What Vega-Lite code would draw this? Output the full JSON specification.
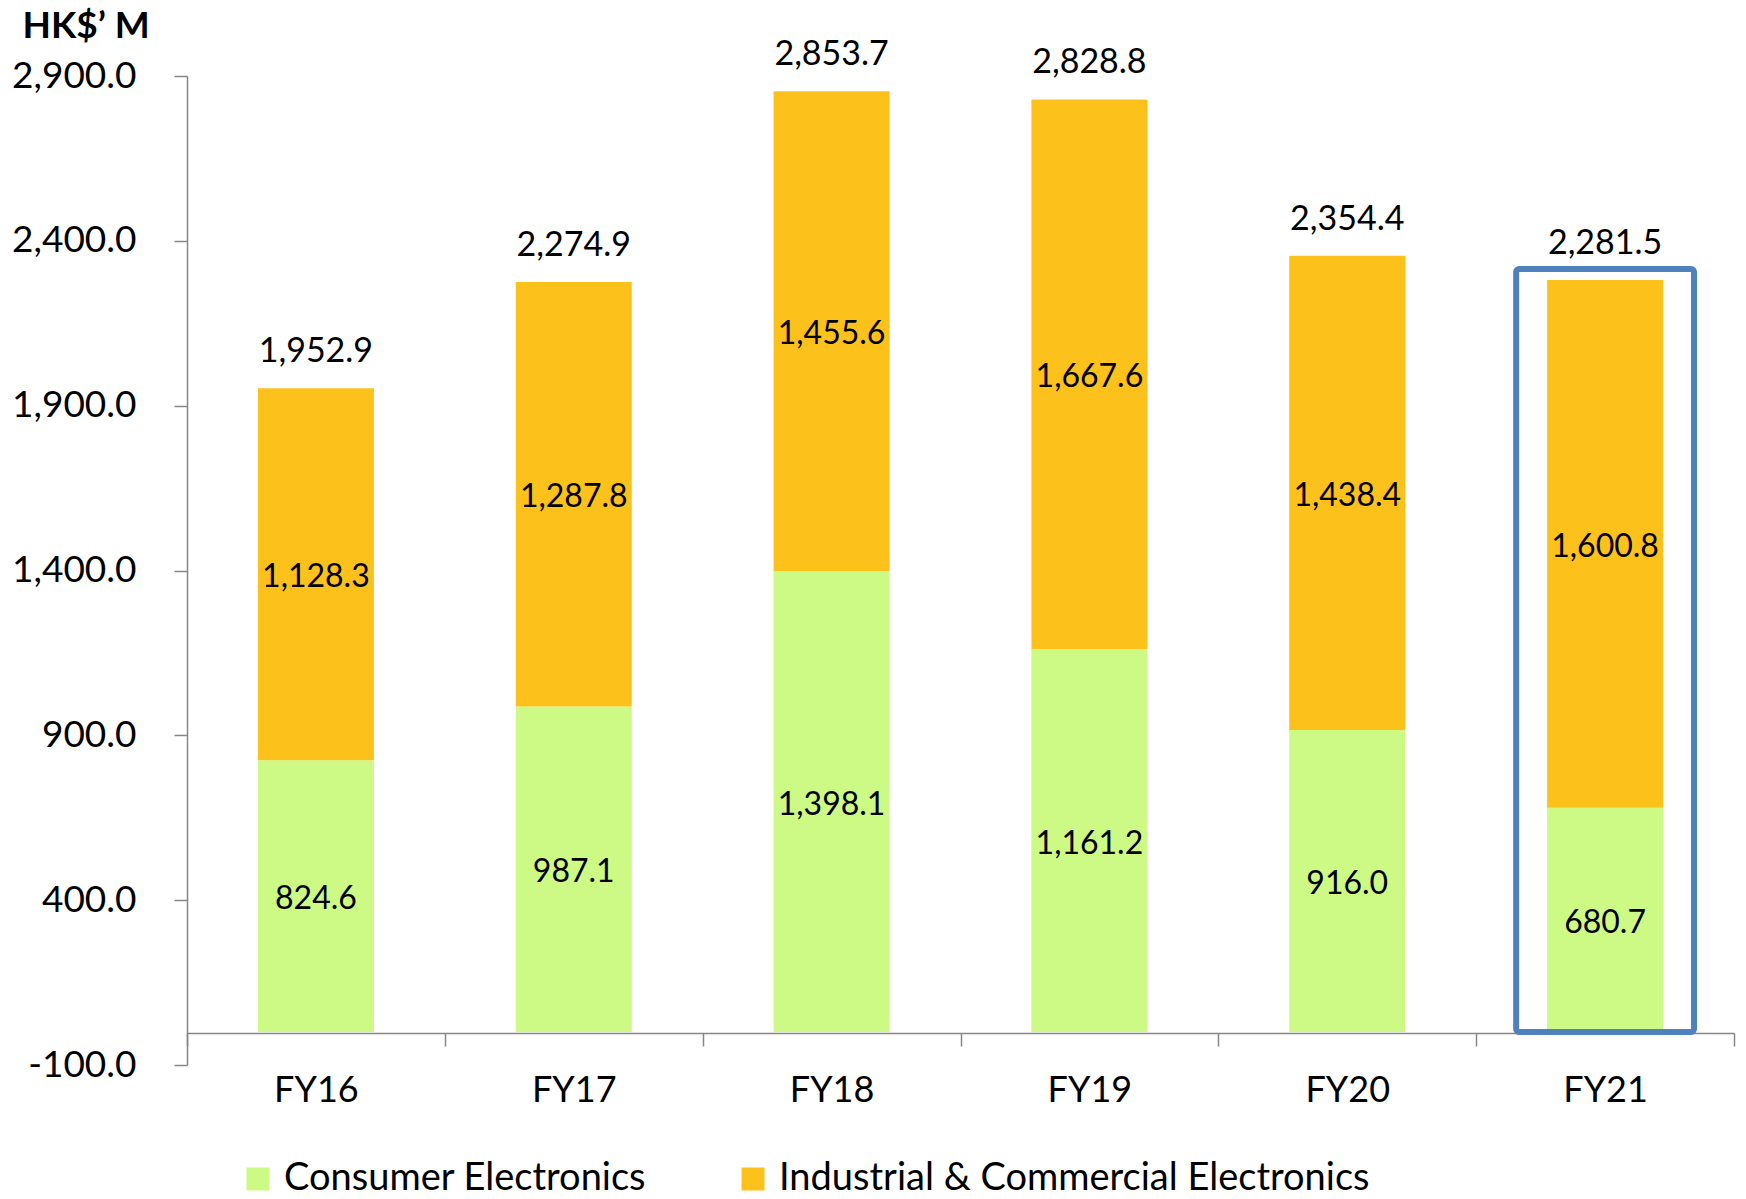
{
  "$schema": "https://vega.github.io/schema/vega-lite/v6.json",
  "width": 1547,
  "height": 989,
  "autosize": "none",
  "padding": {"left": 187, "top": 76, "right": 12, "bottom": 134},
  "background": "white",
  "config": {"view": {"stroke": null}, "font": "Lato"},
  "data": {
    "values": [
      {"year": "FY16", "segment": "Consumer Electronics", "value": 824.6},
      {"year": "FY16", "segment": "Industrial & Commercial Electronics", "value": 1128.3},
      {"year": "FY17", "segment": "Consumer Electronics", "value": 987.1},
      {"year": "FY17", "segment": "Industrial & Commercial Electronics", "value": 1287.8},
      {"year": "FY18", "segment": "Consumer Electronics", "value": 1398.1},
      {"year": "FY18", "segment": "Industrial & Commercial Electronics", "value": 1455.6},
      {"year": "FY19", "segment": "Consumer Electronics", "value": 1161.2},
      {"year": "FY19", "segment": "Industrial & Commercial Electronics", "value": 1667.6},
      {"year": "FY20", "segment": "Consumer Electronics", "value": 916.0},
      {"year": "FY20", "segment": "Industrial & Commercial Electronics", "value": 1438.4},
      {"year": "FY21", "segment": "Consumer Electronics", "value": 680.7},
      {"year": "FY21", "segment": "Industrial & Commercial Electronics", "value": 1600.8}
    ]
  },
  "layer": [
    {
      "mark": {"type": "bar", "width": {"band": 0.45}},
      "encoding": {
        "x": {
          "field": "year", "type": "nominal", "sort": null,
          "scale": {"paddingInner": 0, "paddingOuter": 0},
          "axis": {
            "title": null, "labelAngle": 0, "labelFontSize": 36, "labelColor": "black",
            "labelPadding": 27, "tickBand": "extent", "tickSize": 13, "tickColor": "#868686",
            "tickWidth": 1.5, "domainColor": "#868686", "domainWidth": 1.5, "offset": -32, "grid": false
          }
        },
        "y": {
          "field": "value", "type": "quantitative", "stack": "zero",
          "scale": {"domain": [-100, 2900], "nice": false, "zero": false},
          "axis": {
            "values": [-100, 400, 900, 1400, 1900, 2400, 2900], "format": ",.1f",
            "labelExpr": "replace(datum.label, '\u2212', '-')",
            "labelFontSize": 37, "labelColor": "black", "labelPadding": 38,
            "tickSize": 13, "tickColor": "#868686", "tickWidth": 1.5,
            "domainColor": "#868686", "domainWidth": 1.5, "grid": false,
            "title": "HK$’ M", "titleAngle": 0, "titleAlign": "left", "titleBaseline": "alphabetic",
            "titleX": -165, "titleY": -39, "titleFontSize": 37, "titleFontWeight": "bold", "titleColor": "black"
          }
        },
        "color": {
          "field": "segment", "type": "nominal",
          "scale": {"domain": ["Consumer Electronics", "Industrial & Commercial Electronics"], "range": ["#CCFA84", "#FDC11C"]},
          "legend": {
            "title": null, "orient": "none", "legendX": 52, "legendY": 1084, "direction": "horizontal",
            "symbolType": "square", "symbolSize": 529, "symbolStrokeWidth": 0, "symbolOpacity": 1,
            "labelFontSize": 38, "labelColor": "black", "labelOffset": 7, "labelLimit": 0, "columnPadding": 87
          }
        },
        "order": {"field": "segment", "sort": "ascending"}
      }
    },
    {
      "mark": {"type": "text", "fontSize": 32, "color": "black", "baseline": "middle", "dy": 3},
      "encoding": {
        "x": {"field": "year", "type": "nominal", "sort": null},
        "y": {"field": "value", "type": "quantitative", "stack": "zero", "bandPosition": 0.5},
        "detail": {"field": "segment"},
        "order": {"field": "segment", "sort": "ascending"},
        "text": {"field": "value", "type": "quantitative", "format": ",.1f"}
      }
    },
    {
      "transform": [{"aggregate": [{"op": "sum", "field": "value", "as": "total"}], "groupby": ["year"]}],
      "mark": {"type": "text", "fontSize": 34, "color": "black", "baseline": "alphabetic", "dy": -26},
      "encoding": {
        "x": {"field": "year", "type": "nominal", "sort": null},
        "y": {"field": "total", "type": "quantitative"},
        "text": {"field": "total", "type": "quantitative", "format": ",.1f"}
      }
    },
    {
      "transform": [
        {"filter": "datum.year === 'FY21'"},
        {"aggregate": [{"op": "sum", "field": "value", "as": "total"}], "groupby": ["year"]}
      ],
      "mark": {"type": "bar", "width": {"band": 0.69}, "fill": null, "fillOpacity": 0, "stroke": "#4F81BD", "strokeWidth": 6, "cornerRadius": 3, "yOffset": -11, "y2Offset": 0},
      "encoding": {
        "x": {"field": "year", "type": "nominal", "sort": null},
        "y": {"field": "total", "type": "quantitative"},
        "y2": {"datum": 0}
      }
    }
  ]
}
